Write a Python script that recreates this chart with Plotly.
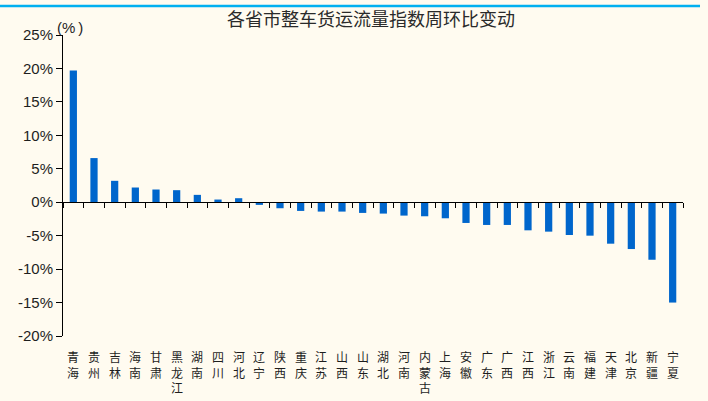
import plotly.graph_objects as go

# Week-on-week change of the whole-truck freight flow index, by province (%)
provinces = ["青海", "贵州", "吉林", "海南", "甘肃", "黑龙江", "湖南", "四川", "河北", "辽宁",
             "陕西", "重庆", "江苏", "山西", "山东", "湖北", "河南", "内蒙古", "上海", "安徽",
             "广东", "广西", "江西", "浙江", "云南", "福建", "天津", "北京", "新疆", "宁夏"]
changes = [19.7, 6.6, 3.2, 2.2, 1.9, 1.8, 1.1, 0.4, 0.6, -0.4,
           -0.9, -1.3, -1.4, -1.4, -1.6, -1.7, -2.0, -2.1, -2.4, -3.1,
           -3.4, -3.4, -4.2, -4.4, -4.9, -5.0, -6.2, -7.0, -8.6, -15.0]
y_ticks = [-20, -15, -10, -5, 0, 5, 10, 15, 20, 25]
y_tick_text = [f"{v}%" for v in y_ticks]

title_text = "各省市整车货运流量指数周环比变动"
unit_text = "(%\u2009)"

W, H = 708, 401
L, R, T, B = 63, 25, 35, 65
PW, PH = W - L - R, H - T - B

BG = "#FFFBF0"
BAR = "#0066CC"
INK = "#1e1e1e"
CJK = "Noto Sans CJK SC"
LATIN = "Liberation Sans, Arial"

y_min, y_max = y_ticks[0], y_ticks[-1]
zero_pos = (0 - y_min) / (y_max - y_min)

fig = go.Figure()
fig.add_trace(go.Bar(
    x=provinces, y=changes,
    marker=dict(color=BAR, line=dict(width=0)),
    width=0.35,
    hoverinfo="x+y",
))

# Province names written vertically, one character per line, under the plot
annotations = []
for name in provinces:
    annotations.append(dict(
        x=name, xref="x", y=0, yref="paper",
        text="<br>".join(name), showarrow=False,
        xanchor="center", yanchor="top",
        yshift=-10,
        font=dict(family=CJK, size=12, color=INK),
    ))

# Chart title and unit label
annotations.append(dict(
    x=(371 - L) / PW, xref="paper", y=1 + (T - 18) / PH, yref="paper",
    text=title_text, showarrow=False, xanchor="center", yanchor="middle",
    font=dict(family=CJK, size=18, color="#2a2a2a"),
))
annotations.append(dict(
    x=(55 - L) / PW, xref="paper", y=1 + (T - 27) / PH, yref="paper",
    text=unit_text, showarrow=False, xanchor="left", yanchor="middle",
    font=dict(family=LATIN, size=15, color=INK),
))

fig.update_layout(
    width=W, height=H,
    margin=dict(l=L, r=R, t=T, b=B, pad=0),
    paper_bgcolor=BG, plot_bgcolor=BG,
    showlegend=False,
    bargap=0.65,
    annotations=annotations,
    xaxis=dict(
        type="category", categoryorder="array", categoryarray=provinces,
        range=[-0.5, len(provinces) - 0.5],
        anchor="free", position=zero_pos,
        showline=True, linecolor="black", linewidth=1,
        ticks="outside", tickson="boundaries", ticklen=5, tickwidth=1, tickcolor="black",
        showticklabels=False, showgrid=False, zeroline=False,
        fixedrange=True,
    ),
    yaxis=dict(
        range=[y_min, y_max],
        tickmode="array", tickvals=y_ticks, ticktext=y_tick_text,
        showline=True, linecolor="black", linewidth=1,
        ticks="outside", ticklen=6, tickwidth=1, tickcolor="black",
        tickfont=dict(family=LATIN, size=15, color=INK),
        showgrid=False, zeroline=False, fixedrange=True,
    ),
    shapes=[dict(
        type="line", xref="paper", yref="paper",
        x0=-L / PW, x1=(700 - L) / PW,
        y0=1 + (T - 6) / PH, y1=1 + (T - 6) / PH,
        line=dict(color="#00B0F0", width=2.5),
    )],
)

fig.write_html("out.html")
